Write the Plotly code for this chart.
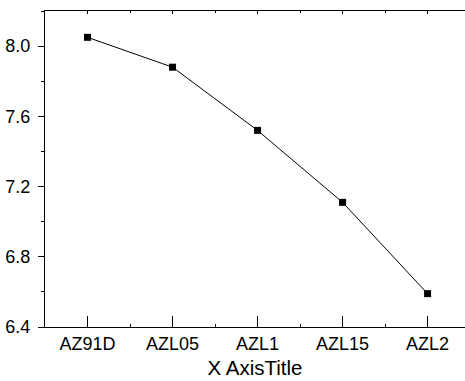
import plotly.graph_objects as go

categories = ["AZ91D", "AZL05", "AZL1", "AZL15", "AZL2"]
values = [8.05, 7.88, 7.52, 7.11, 6.59]
y_ticks = [6.4, 6.8, 7.2, 7.6, 8.0]
y_ticklabels = ["6.4", "6.8", "7.2", "7.6", "8.0"]

x_pos = list(range(len(categories)))

fig = go.Figure()
fig.add_trace(go.Scatter(
    x=x_pos, y=values, mode="lines+markers",
    line=dict(color="black", width=1),
    marker=dict(symbol="square", size=7, color="black"),
    showlegend=False,
))

font = dict(family="Liberation Sans, Arial, sans-serif", size=18, color="black")

fig.update_layout(
    width=465, height=381,
    margin=dict(l=45, r=0, t=11, b=54),
    paper_bgcolor="white", plot_bgcolor="white",
    font=font,
    xaxis=dict(
        range=[-0.5, 4.44], tickvals=x_pos, ticktext=categories,
        showline=True, linecolor="black", linewidth=1.2,
        ticks="inside", ticklen=11, tickwidth=1, tickcolor="black",
        minor=dict(tickvals=[0.5, 1.5, 2.5, 3.5], ticks="inside", ticklen=3, tickcolor="black"),
        showgrid=False, zeroline=False,
        title=dict(text="X AxisTitle", font=dict(size=20.5), standoff=7),
        tickfont=font,
    ),
    xaxis2=dict(
        range=[-0.5, 4.44], overlaying="x", side="top", anchor="y",
        tickvals=x_pos, showticklabels=False,
        showline=True, linecolor="black", linewidth=1.2,
        ticks="inside", ticklen=3, tickcolor="black",
        minor=dict(tickvals=[0.5, 1.5, 2.5, 3.5], ticks="inside", ticklen=2, tickcolor="black"),
        showgrid=False, zeroline=False,
    ),
    yaxis=dict(
        range=[6.4, 8.2], tickvals=y_ticks, ticktext=y_ticklabels,
        showline=True, linecolor="black", linewidth=1.2,
        ticks="outside", ticklen=6, tickwidth=1, tickcolor="black",
        minor=dict(tickvals=[6.6, 7.0, 7.4, 7.8, 8.2], ticks="outside", ticklen=3, tickcolor="black"),
        showgrid=False, zeroline=False,
        ticklabelstandoff=4,
        tickfont=font,
    ),
)
fig.add_trace(go.Scatter(x=[None], y=[None], xaxis="x2", showlegend=False))

fig.write_html("out.html")
